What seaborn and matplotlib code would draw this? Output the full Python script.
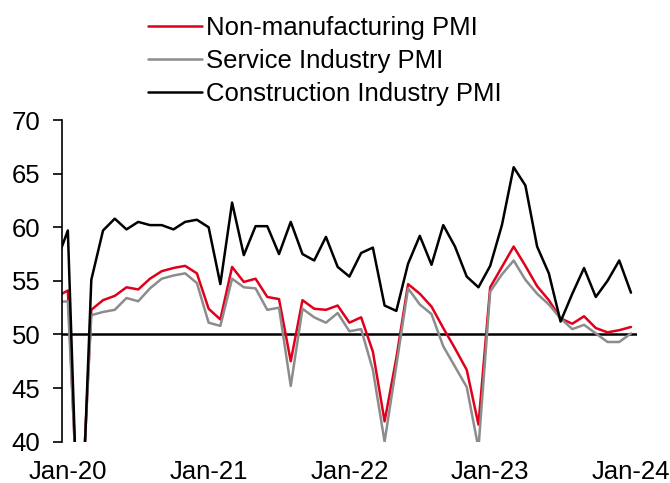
import pandas as pd
import matplotlib.pyplot as plt
import seaborn as sns
import numpy as np

# Monthly PMI readings, Dec-2019 .. Jan-2024
months = pd.period_range('2019-12', '2024-01', freq='M')

non_mfg = [53.5,
           54.1, 29.6, 52.3, 53.2, 53.6, 54.4, 54.2, 55.2, 55.9, 56.2, 56.4, 55.7,
           52.4, 51.4, 56.3, 54.9, 55.2, 53.5, 53.3, 47.5, 53.2, 52.4, 52.3, 52.7,
           51.1, 51.6, 48.4, 41.9, 47.8, 54.7, 53.8, 52.6, 50.6, 48.7, 46.7, 41.6,
           54.4, 56.3, 58.2, 56.4, 54.5, 53.2, 51.5, 51.0, 51.7, 50.6, 50.2, 50.4,
           50.7]
services = [53.0,
            53.1, 30.1, 51.8, 52.1, 52.3, 53.4, 53.1, 54.3, 55.2, 55.5, 55.7, 54.8,
            51.1, 50.8, 55.2, 54.4, 54.3, 52.3, 52.5, 45.2, 52.4, 51.6, 51.1, 52.0,
            50.3, 50.5, 46.7, 40.0, 47.1, 54.3, 52.8, 51.9, 48.9, 47.0, 45.1, 39.4,
            54.0, 55.6, 56.9, 55.1, 53.8, 52.8, 51.5, 50.5, 50.9, 50.1, 49.3, 49.3,
            50.1]
construction = [56.7,
                59.7, 26.6, 55.1, 59.7, 60.8, 59.8, 60.5, 60.2, 60.2, 59.8, 60.5, 60.7,
                60.0, 54.7, 62.3, 57.4, 60.1, 60.1, 57.5, 60.5, 57.5, 56.9, 59.1, 56.3,
                55.4, 57.6, 58.1, 52.7, 52.2, 56.6, 59.2, 56.5, 60.2, 58.2, 55.4, 54.4,
                56.4, 60.2, 65.6, 63.9, 58.2, 55.7, 51.2, 53.8, 56.2, 53.5, 55.0, 56.9,
                53.9]

series_names = ['Non-manufacturing PMI', 'Service Industry PMI', 'Construction Industry PMI']
colors = ['#e0001b', '#8c8c8c', '#000000']
tick_labels = ['Jan-20', 'Jan-21', 'Jan-22', 'Jan-23', 'Jan-24']

# month index, Jan-2020 = 0
x = np.arange(len(months)) - 1
df = pd.concat([
    pd.DataFrame({'x': x, 'value': vals, 'series': name})
    for name, vals in zip(series_names, [non_mfg, services, construction])
])

sns.set_style('white')
plt.rcParams['font.family'] = ['Liberation Sans', 'DejaVu Sans']
plt.rcParams['font.size'] = 18.5
plt.rcParams['text.color'] = 'black'
plt.rcParams['xtick.color'] = 'black'
plt.rcParams['ytick.color'] = 'black'

fig = plt.figure(figsize=(6.7, 4.83), dpi=100)
ax = fig.add_axes([0.0925, 0.0855, 0.858, 0.666])

sns.lineplot(data=df, x='x', y='value', hue='series', palette=colors,
             hue_order=series_names, linewidth=1.8, ax=ax, legend=False)

ax.axhline(50, color='black', linewidth=1.8, zorder=1)

ax.set_xlim(-0.5, 48.5)
ax.set_ylim(40, 70)
ax.set_yticks(range(40, 71, 5))
ax.set_xticks([0, 12, 24, 36, 48])
ax.set_xticklabels(tick_labels)
ax.set_xlabel('')
ax.set_ylabel('')

for side in ['top', 'right', 'bottom']:
    ax.spines[side].set_visible(False)
ax.spines['left'].set_color('black')
ax.spines['left'].set_linewidth(1.2)
ax.tick_params(axis='y', left=True, direction='out', length=6.5, width=1.2,
               color='black', labelcolor='black', pad=9)
ax.tick_params(axis='x', bottom=False, length=0, pad=13, labelcolor='black')

handles = [plt.Line2D([], [], color=c, linewidth=1.8) for c in colors]
fig.legend(handles, series_names, loc='upper left', bbox_to_anchor=(135 / 670, 1 - 3 / 483),
           frameon=False, borderpad=0, handlelength=2.1, handletextpad=0.18,
           labelspacing=0.36, fontsize=18.5)

fig.savefig('out.png', dpi=100)
